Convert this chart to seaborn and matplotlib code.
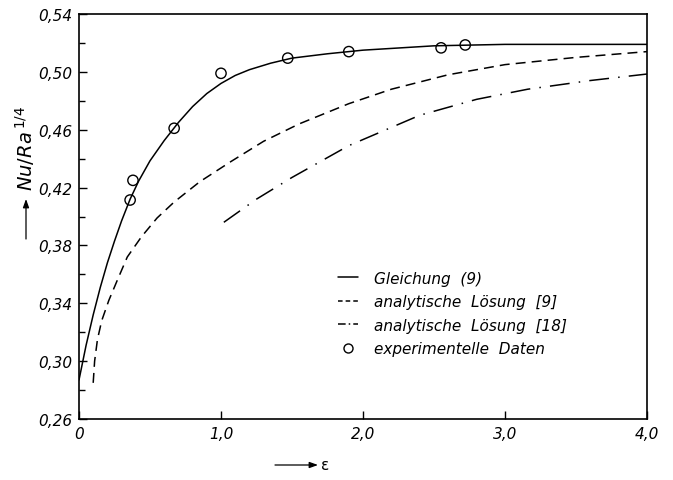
import matplotlib
matplotlib.use("Agg")
import matplotlib.pyplot as plt
from matplotlib.lines import Line2D
import seaborn as sns
import pandas as pd

# Gleichung (9)
eps_gl = [0.0, 0.05, 0.1, 0.15, 0.2, 0.25, 0.3, 0.36, 0.42, 0.5, 0.6, 0.7, 0.8, 0.9, 1.0,
          1.1, 1.2, 1.35, 1.5, 1.75, 2.0, 2.5, 3.0, 4.0]
nu_gl = [0.287, 0.311, 0.332, 0.351, 0.368, 0.383, 0.397, 0.412, 0.4245, 0.4385, 0.4525,
         0.465, 0.476, 0.485, 0.492, 0.4975, 0.5015, 0.506, 0.5095, 0.5125, 0.515, 0.518,
         0.519, 0.519]

# analytische Lösung [9]
eps_a9 = [0.1, 0.11, 0.13, 0.16, 0.21, 0.27, 0.34, 0.44, 0.55, 0.67, 0.85, 1.07, 1.3, 1.55,
          1.9, 2.2, 2.6, 3.0, 3.5, 4.0]
nu_a9 = [0.285, 0.300, 0.315, 0.328, 0.342, 0.356, 0.372, 0.386, 0.399, 0.410, 0.424, 0.438,
         0.452, 0.464, 0.478, 0.488, 0.498, 0.505, 0.510, 0.514]

# analytische Lösung [18]
eps_a18 = [1.02, 1.25, 1.5, 1.9, 2.4, 2.8, 3.16, 3.6, 4.0]
nu_a18 = [0.396, 0.412, 0.427, 0.449, 0.470, 0.481, 0.488, 0.494, 0.4985]

# experimentelle Daten
eps_exp = [0.36, 0.38, 0.67, 1.0, 1.47, 1.9, 2.55, 2.72]
nu_exp = [0.4114, 0.425, 0.461, 0.499, 0.5095, 0.514, 0.5166, 0.5186]

labels = ["Gleichung  (9)", "analytische  Lösung  [9]",
          "analytische  Lösung  [18]", "experimentelle  Daten"]

x_ticks = [0, 1, 2, 3, 4]
x_ticklabels = ["0", "1,0", "2,0", "3,0", "4,0"]
y_ticks = [0.26, 0.30, 0.34, 0.38, 0.42, 0.46, 0.50, 0.54]
y_ticklabels = ["0,26", "0,30", "0,34", "0,38", "0,42", "0,46", "0,50", "0,54"]

sns.set_style("ticks")
plt.rcParams["font.family"] = ["DejaVu Sans"]
plt.rcParams["mathtext.fontset"] = "dejavusans"
plt.rcParams["text.color"] = "black"

W, H = 673, 481
fig = plt.figure(figsize=(W / 100, H / 100), dpi=100)
ax = fig.add_axes([79 / W, 61 / H, 568 / W, 405 / H])

lw = 1.1
dash_a9 = (0, (6.5, 4.0))
dash_a18 = (0, (13, 6, 1, 6))
sns.lineplot(data=pd.DataFrame({"x": eps_gl, "y": nu_gl}), x="x", y="y", ax=ax,
             color="black", lw=lw, linestyle="-", sort=False)
sns.lineplot(data=pd.DataFrame({"x": eps_a9, "y": nu_a9}), x="x", y="y", ax=ax,
             color="black", lw=lw, linestyle=dash_a9, sort=False)
sns.lineplot(data=pd.DataFrame({"x": eps_a18, "y": nu_a18}), x="x", y="y", ax=ax,
             color="black", lw=lw, linestyle=dash_a18, sort=False)
sns.scatterplot(data=pd.DataFrame({"x": eps_exp, "y": nu_exp}), x="x", y="y", ax=ax,
                marker="o", s=55, facecolor="none", edgecolor="black", linewidth=1.0,
                zorder=3, legend=False)

ax.set_xlim(0, 4.0)
ax.set_ylim(0.26, 0.54)
ax.set_xticks(x_ticks)
ax.set_xticklabels(x_ticklabels, style="italic", fontsize=11, color="black")
ax.set_yticks(y_ticks)
ax.set_yticklabels(y_ticklabels, style="italic", fontsize=11, color="black")
ax.set_yticks([0.28, 0.32, 0.36, 0.40, 0.44, 0.48, 0.52], minor=True)
ax.tick_params(axis="both", which="major", direction="in", length=6, width=1.0, colors="black",
               top=False, right=False, pad=5)
ax.tick_params(axis="y", which="minor", direction="in", length=4, width=1.0, colors="black")
for s in ax.spines.values():
    s.set_linewidth(1.2)
    s.set_color("black")
ax.set_xlabel("")
ax.set_ylabel("")

# axis captions, each led by a thin arrow
arrow = dict(arrowstyle="-|>,head_length=0.5,head_width=0.18", color="black", lw=0.9,
             shrinkA=0, shrinkB=0)
ax.annotate("", xy=(318 / W, 1 - 466 / H), xytext=(275 / W, 1 - 466 / H),
            xycoords="figure fraction", arrowprops=arrow, annotation_clip=False)
fig.text(321 / W, 1 - 466 / H, "ε", fontsize=11, ha="left", va="center", color="black")
ax.annotate("", xy=(26 / W, 1 - 200 / H), xytext=(26 / W, 1 - 240 / H),
            xycoords="figure fraction", arrowprops=arrow, annotation_clip=False)
fig.text(25 / W, 1 - 148 / H, r"$\mathit{Nu}/\mathit{Ra}^{\,1/4}$",
         fontsize=14, rotation=90, ha="center", va="center", color="black")

# legend with compact line patterns
handles = [
    Line2D([], [], color="black", lw=lw, linestyle="-"),
    Line2D([], [], color="black", lw=lw, linestyle=(0, (3, 2))),
    Line2D([], [], color="black", lw=lw, linestyle=(0, (5, 2, 1, 2))),
    Line2D([], [], color="black", lw=0, marker="o", markersize=6.5,
           markerfacecolor="none", markeredgecolor="black", markeredgewidth=1.0),
]
ax.legend(handles, labels, loc="upper left", bbox_to_anchor=(0.443, 0.385), frameon=False,
          handlelength=1.3, handletextpad=1.05, labelspacing=0.55, borderpad=0,
          labelcolor="black", prop={"style": "italic", "size": 11})

fig.savefig("out.png", dpi=100)
